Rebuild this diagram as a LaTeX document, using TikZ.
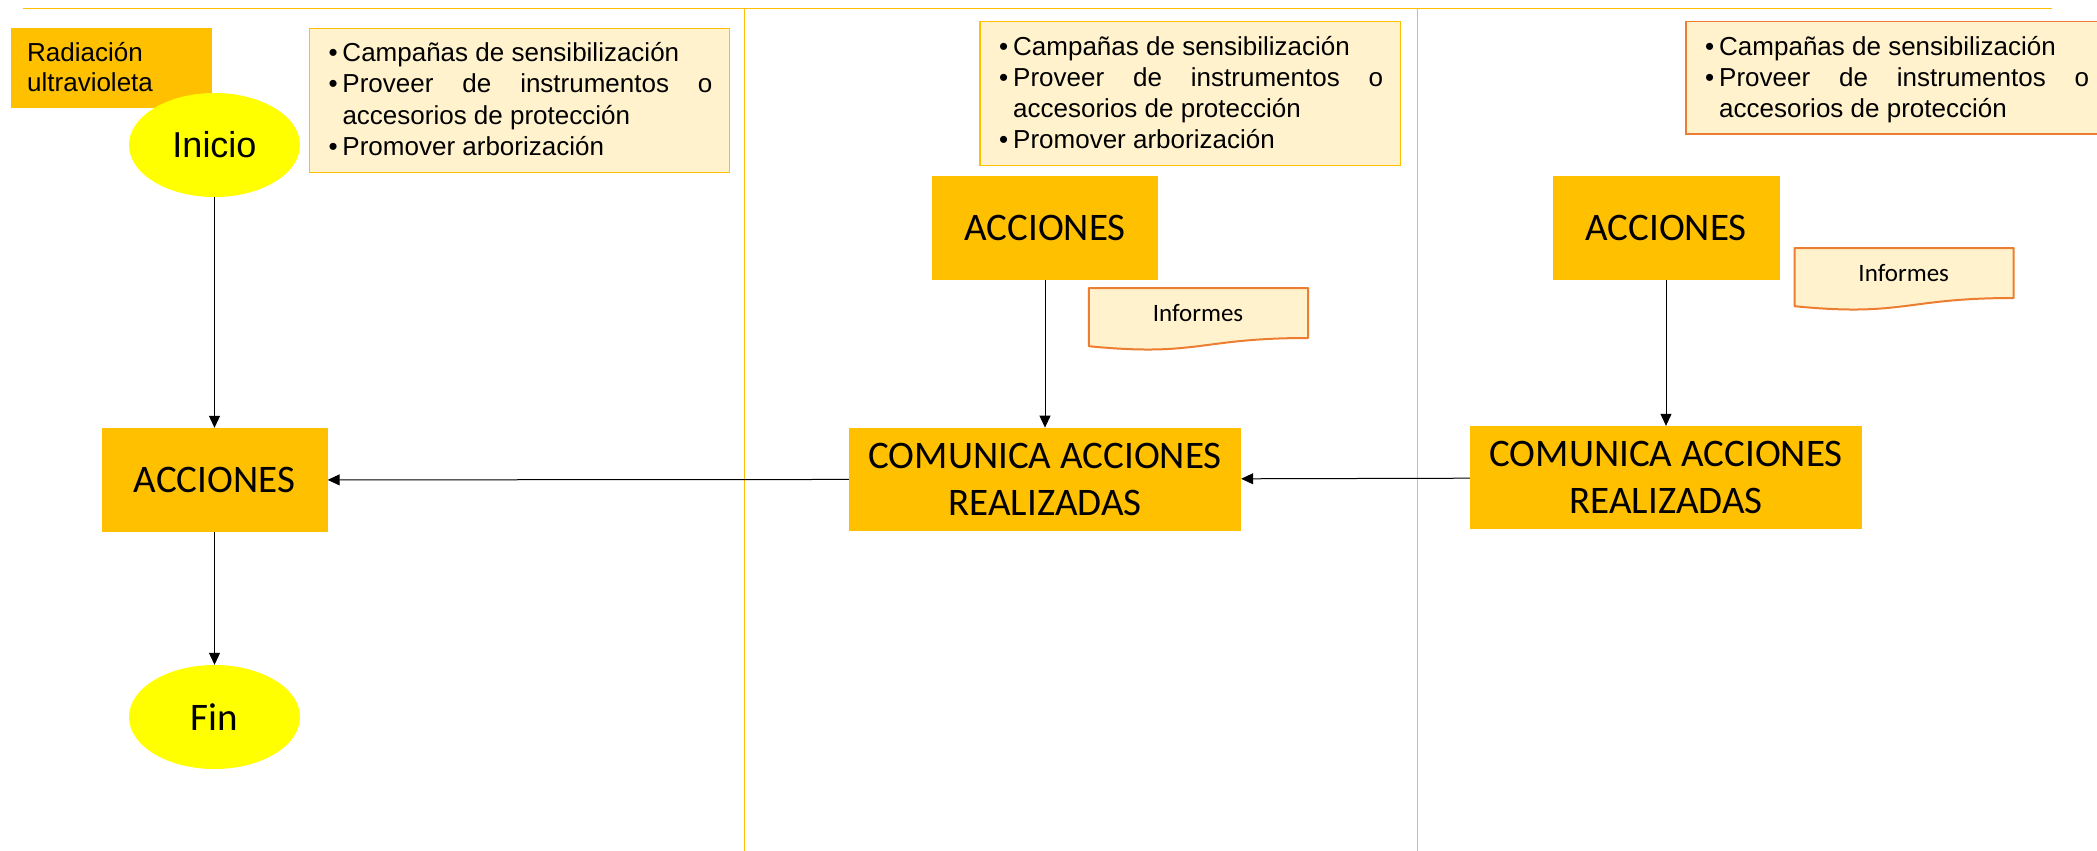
\documentclass[tikz,border=0pt]{standalone}
\usepackage{fontspec}
\setmainfont{Liberation Sans}
\newfontfamily\calfont{Carlito}
\usetikzlibrary{shapes.geometric,arrows.meta}
\definecolor{gold}{HTML}{FFC000}
\definecolor{cream}{HTML}{FFF2CC}
\definecolor{orng}{HTML}{ED7D31}
\definecolor{yel}{HTML}{FFFF00}
\newcommand{\bul}[1]{\par\noindent\hangindent=14pt\hangafter=1\makebox[14pt][l]{\textbullet}#1\par}
\newcommand{\blist}[1]{\parbox[t]{384pt}{\fontsize{26pt}{31.3pt}\selectfont\hyphenpenalty=10000\exhyphenpenalty=10000\tolerance=10000\hbadness=10000\parindent=0pt #1}}
\begin{document}
\begin{tikzpicture}[x=1pt,y=-1pt,
  box/.style={rectangle, fill=gold, inner sep=0pt, font=\calfont\fontsize{39pt}{46.5pt}\selectfont, align=center},
  oval/.style={ellipse, fill=yel, inner sep=0pt, minimum width=171pt, minimum height=104pt},
  note/.style={rectangle, fill=cream, line width=1.5pt, inner sep=0pt},
  doc/.style={fill=cream, draw=orng, line width=2pt, line join=round},
  doctext/.style={inner sep=0pt, font=\calfont\fontsize{25pt}{30pt}\selectfont},
  arr/.style={-{Triangle[length=12pt,width=11pt]}, line width=1pt, black},
  lane/.style={gold, line width=1pt}]
\useasboundingbox (0,0) rectangle (2097,851);
\fill[white] (0,0) rectangle (2097,851);
% header line and lanes
\coordinate (tl) at (23,8.3);
\coordinate (tr) at (2052,8.3);
\draw[gold, line width=1.3pt] (tl) -- (tr);
\coordinate (l1t) at (744.5,8.3);
\coordinate (l1b) at (744.5,851);
\coordinate (l2t) at (1417.8,8.3);
\coordinate (l2b) at (1417.8,851);
\draw[lane] (l1t) -- (l1b);
\draw[lane] (l2t) -- (l2b);
% left lane
\node[box, minimum width=201pt, minimum height=80pt] (rad) at (111.5,68) {};
\node[anchor=base west, inner sep=0pt] (radt) at (27,62) {\parbox[t]{190pt}{\fontsize{26pt}{30pt}\selectfont\raggedright Radiación\\ultravioleta}};
\node[oval, font=\fontsize{36pt}{40pt}\selectfont] (ini) at (214.5,145) {Inicio};
\node[box, minimum width=226pt, minimum height=104pt] (acc1) at (214.5,480) {ACCIONES};
\node[oval, font=\calfont\fontsize{39pt}{44pt}\selectfont] (fin) at (214.5,717) {Fin};
\node[note, draw=gold, minimum width=420pt, minimum height=144.4pt] (b1) at (519.3,100.5) {};
\node[anchor=base west, inner sep=0pt] (b1t) at (328.3,61.7) {\blist{\bul{Campañas de sensibilización}\bul{Proveer de instrumentos o accesorios de protección}\bul{Promover arborización}}};
% middle lane
\node[note, draw=gold, minimum width=420.6pt, minimum height=144pt] (b2) at (1190.3,93.7) {};
\node[anchor=base west, inner sep=0pt] (b2t) at (999,55.1) {\blist{\bul{Campañas de sensibilización}\bul{Proveer de instrumentos o accesorios de protección}\bul{Promover arborización}}};
\node[box, minimum width=226pt, minimum height=104pt] (acc2) at (1045,228) {ACCIONES};
\filldraw[doc] (1088.8,288) -- (1308,288) -- (1308,338) .. controls (1198.4,338) and (1198.4,357) .. (1088.8,346.2) -- cycle;
\node[doctext] (inf1) at (1198,313) {Informes};
\node[box, minimum width=392pt, minimum height=103pt] (com2) at (1045,479.3) {COMUNICA ACCIONES\\REALIZADAS};
% right lane
\node[note, draw=orng, minimum width=434pt, minimum height=112.3pt] (b3) at (1903,77.85) {};
\node[anchor=base west, inner sep=0pt] (b3t) at (1705,55.1) {\blist{\bul{Campañas de sensibilización}\bul{Proveer de instrumentos o accesorios de protección}}};
\node[box, minimum width=227pt, minimum height=104pt] (acc3) at (1666,228) {ACCIONES};
\filldraw[doc] (1794.5,248) -- (2013.7,248) -- (2013.7,298) .. controls (1904.1,298) and (1904.1,317) .. (1794.5,306.2) -- cycle;
\node[doctext] (inf2) at (1903.7,273) {Informes};
\node[box, minimum width=392pt, minimum height=103.3pt] (com3) at (1666,477.7) {COMUNICA ACCIONES\\REALIZADAS};
% connectors
\draw[arr] (ini) -- (acc1);
\draw[arr] (acc1) -- (fin);
\draw[arr] (acc2) -- (com2);
\draw[arr] (acc3) -- (com3);
\draw[arr] (com2) -- (acc1);
\draw[arr] (com3) -- (com2);
\end{tikzpicture}
\end{document}
